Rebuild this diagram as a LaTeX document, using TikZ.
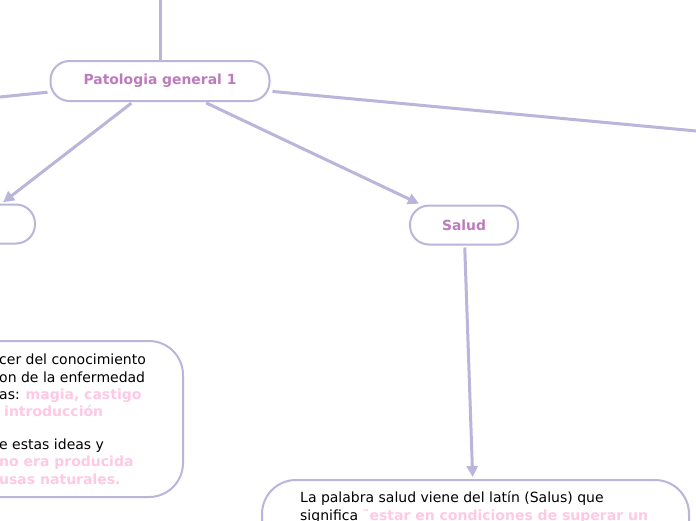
\documentclass[tikz,border=0pt]{standalone}
\usepackage{fontspec}
\setmainfont{DejaVu Sans}
\usetikzlibrary{arrows.meta,positioning}
\definecolor{linkLav}{RGB}{186,181,218}
\definecolor{titlePurple}{RGB}{190,122,190}
\definecolor{notePink}{RGB}{255,200,228}
\tikzset{
  topic/.style={draw=linkLav, line width=2pt, rounded corners=19pt, fill=white, align=center, minimum height=40pt, font=\fontsize{13.9}{16}\selectfont\bfseries, text=titlePurple},
  bigbox/.style={draw=linkLav, line width=2pt, rounded corners=34pt, fill=white},
  note/.style={align=left, inner sep=0pt, font=\fontsize{14}{17.2}\selectfont, text=black},
  link/.style={draw=linkLav, line width=3pt, shorten <=2pt},
  arrow/.style={link, -{Triangle[length=11pt,width=11pt]}, shorten >=2pt}
}
\newcommand{\hl}[1]{\textcolor{notePink}{\textbf{#1}}}

\begin{document}
\begin{tikzpicture}[x=1pt,y=-1pt]
  \clip (0,0) rectangle (696,520);
  \fill[white] (0,0) rectangle (696,520);

  % nodes
  \node[topic, minimum width=219pt] (pat) at (160,81) {Patologia general 1};
  \node[topic, minimum width=120pt, minimum height=39pt] (left) at (-25,224) {};
  \node[topic, minimum width=108pt, minimum height=39pt] (salud) at (464,225) {Salud};
  \node[bigbox, minimum width=330pt, minimum height=156pt] (causas) at (18,419) {};
  \node[bigbox, minimum width=427pt, minimum height=160pt] (saludbox) at (475.5,560) {};

  \coordinate (up) at (160,-100);
  \coordinate (offL) at (-300,127);
  \coordinate (offR) at (900,150);

  % texts (base = last line)
  \node[note, anchor=base west] (causastxt) at (-1,484)
    {cer del conocimiento\\on de la enfermedad\\as: \hl{magia, castigo}\\\hspace*{5pt}\hl{introducción}\\[16pt]e estas ideas y\\\hl{no era producida}\\\hl{usas naturales.}};
  \node[note, anchor=base west] (saludtxt) at (300,520)
    {La palabra salud viene del latín (Salus) que\\significa \hl{¨estar en condiciones de superar un}};

  % connectors
  \draw[link] (up) -- (pat);
  \draw[link] (pat) -- (offL);
  \draw[link] (pat) -- (offR);
  \draw[arrow] (pat) -- (left);
  \draw[arrow] (pat) -- (salud);
  \draw[arrow] (salud) -- (saludbox);
\end{tikzpicture}
\end{document}
